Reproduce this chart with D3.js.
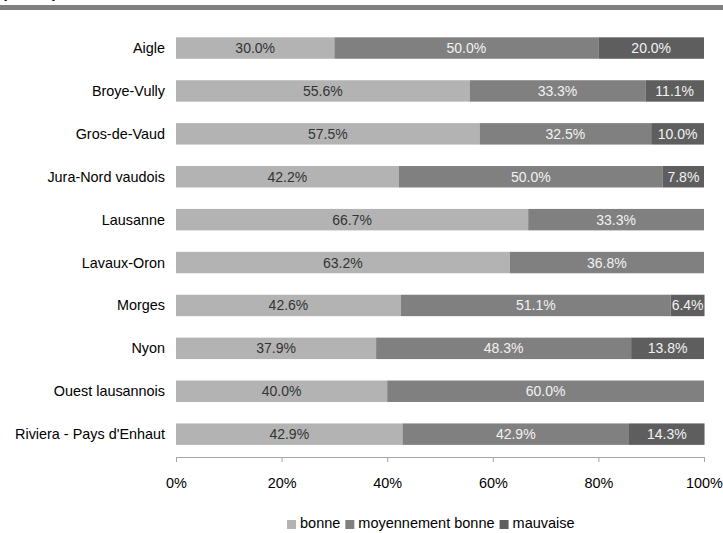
<!DOCTYPE html>
<html><head><meta charset="utf-8">
<script src="https://cdn.jsdelivr.net/npm/d3@7"></script>
<style>
body{margin:0;background:#fff;}
svg{display:block;font-family:"Liberation Sans",Arial,sans-serif;}
</style></head><body>
<svg id="c" width="723" height="533"></svg>
<script>
const categories = ["Aigle","Broye-Vully","Gros-de-Vaud","Jura-Nord vaudois","Lausanne","Lavaux-Oron","Morges","Nyon","Ouest lausannois","Riviera - Pays d'Enhaut"];
const seriesNames = ["bonne","moyennement bonne","mauvaise"];
const bonne = [30.0,55.6,57.5,42.2,66.7,63.2,42.6,37.9,40.0,42.9];
const moyennement = [50.0,33.3,32.5,50.0,33.3,36.8,51.1,48.3,60.0,42.9];
const mauvaise = [20.0,11.1,10.0,7.8,0,0,6.4,13.8,0,14.3];
const tickValues = [0,20,40,60,80,100];
const colors = ["#b3b3b3","#808080","#5e5e5e"];
const labelColors = ["#333333","#f2f2f2","#f2f2f2"];

const svg = d3.select("#c");
// top cut-off header
svg.append("text").attr("x",2).attr("y",-2).attr("font-size",15).attr("font-weight","bold")
  .attr("letter-spacing","2px").attr("fill","#000").text("(en %)");
svg.append("rect").attr("x",0).attr("y",5).attr("width",723).attr("height",5).attr("fill","#808080");

const x = d3.scaleLinear().domain([0,100]).range([176,704]);
const y = d3.scaleBand().domain(categories).range([26.6,455.6]).paddingInner(0.5).paddingOuter(0.25);

const rows = categories.map((c,i)=>({cat:c, vals:[bonne[i],moyennement[i],mauvaise[i]]}));
const stack = d3.stack().keys([0,1,2]).value((d,k)=>d.vals[k]);
const stacked = stack(rows);

stacked.forEach((layer,k)=>{
  const g = svg.append("g");
  g.selectAll("rect").data(layer.filter(d=>d[1]-d[0]>0)).join("rect")
    .attr("x",d=>x(d[0])).attr("width",d=>x(d[1])-x(d[0]))
    .attr("y",d=>y(d.data.cat)).attr("height",y.bandwidth())
    .attr("fill",colors[k]);
  g.selectAll("text").data(layer.filter(d=>d[1]-d[0]>0)).join("text")
    .attr("x",d=>(x(d[0])+x(d[1]))/2)
    .attr("y",d=>y(d.data.cat)+y.bandwidth()/2+5)
    .attr("text-anchor","middle").attr("font-size",14)
    .attr("fill",labelColors[k])
    .text(d=>(d[1]-d[0]).toFixed(1)+"%");
});

// category labels
svg.append("g").selectAll("text").data(categories).join("text")
  .attr("x",165).attr("y",d=>y(d)+y.bandwidth()/2+5)
  .attr("text-anchor","end").attr("font-size",14.4).attr("fill","#000")
  .text(d=>d);

// x axis
const ax = svg.append("g").attr("transform","translate(0,457)")
  .call(d3.axisBottom(x).tickValues(tickValues).tickSize(5).tickSizeOuter(0).tickFormat(d=>d+"%"));
ax.select(".domain").attr("stroke","#a6a6a6");
ax.selectAll(".tick line").attr("stroke","#a6a6a6");
ax.selectAll(".tick text").attr("font-size",14.4).attr("fill","#000")
  .attr("font-family","Liberation Sans, Arial, sans-serif").attr("y",21).attr("dy","0.71em");

// legend
const lg = svg.append("g");
let lx = 287;
seriesNames.forEach((n,k)=>{
  lg.append("rect").attr("x",lx).attr("y",520).attr("width",9).attr("height",9).attr("fill",colors[k]);
  const t = lg.append("text").attr("x",lx+13).attr("y",528).attr("font-size",14.5).attr("fill","#000").text(n);
  lx += 13 + t.node().getComputedTextLength() + 5;
});
</script>
</body></html>
